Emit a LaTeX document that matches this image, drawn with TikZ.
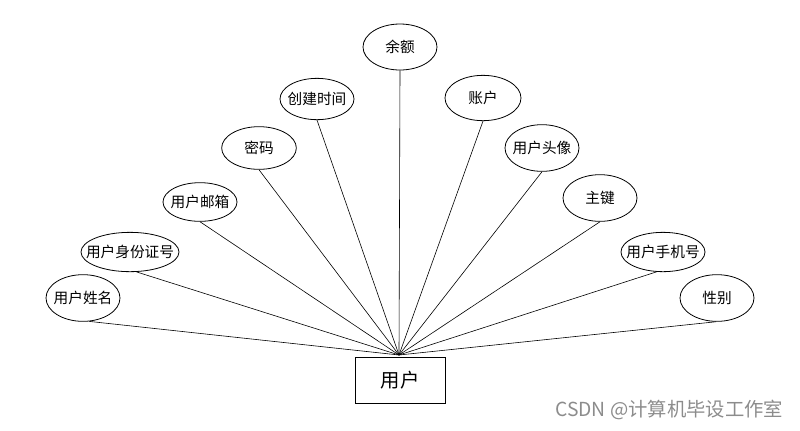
\documentclass[tikz,border=0pt]{standalone}
\usepackage{fontspec}
\newfontfamily\cjk{Noto Sans CJK SC}
\usetikzlibrary{shapes.geometric}
\tikzset{
  attr/.style={ellipse, draw=black, line width=0.6pt, inner xsep=-14pt, inner ysep=0pt, font=\cjk\fontsize{11}{12}\selectfont},
  ent/.style={rectangle, draw=black, line width=0.6pt, inner sep=0pt, minimum width=67.5pt, minimum height=34.5pt, font=\cjk\fontsize{14.5}{16}\selectfont},
  link/.style={draw=black, line width=0.45pt}
}
\begin{document}
\begin{tikzpicture}[x=0.75pt,y=-0.75pt]
\useasboundingbox (0,0) rectangle (800,430);
\node[ent] (u) at (400,380) {用户};
\coordinate (c) at (399,355);
\node[attr, minimum width=55.5pt, minimum height=34.5pt] (a1) at (400,47) {余额};
\node[attr, minimum width=55.5pt, minimum height=31pt] (a2) at (317,99) {创建时间};
\node[attr, minimum width=57pt, minimum height=34pt] (a3) at (483,98) {账户};
\node[attr, minimum width=56pt, minimum height=32pt] (a4) at (259,148) {密码};
\node[attr, minimum width=55.5pt, minimum height=35pt] (a5) at (542,148) {用户头像};
\node[attr, minimum width=55.5pt, minimum height=29pt] (a6) at (200,202) {用户邮箱};
\node[attr, minimum width=55.5pt, minimum height=35pt] (a7) at (600,198) {主键};
\node[attr, minimum width=73.5pt, minimum height=29.5pt] (a8) at (130,252) {用户身份证号};
\node[attr, minimum width=63pt, minimum height=29.5pt] (a9) at (663,252) {用户手机号};
\node[attr, minimum width=55.5pt, minimum height=35pt] (a10) at (83,298) {用户姓名};
\node[attr, minimum width=55.5pt, minimum height=35pt] (a11) at (717,298) {性别};
\draw[link] (a1.south) -- (c);
\draw[link] (a2.south) -- (c);
\draw[link] (a3.south) -- (c);
\draw[link] (a4.south) -- (c);
\draw[link] (a5.south) -- (c);
\draw[link] (a6.south) -- (c);
\draw[link] (a7.south) -- (c);
\draw[link] (a8.-72) -- (c);
\draw[link] (a9.-108) -- (c);
\draw[link] (a10.-75) -- (c);
\draw[link] (a11.-92) -- (c);
\node[anchor=west, inner sep=0pt, text=black!45, font=\cjk\fontsize{14.5}{16}\selectfont] (wm) at (555,410) {CSDN @计算机毕设工作室};
\end{tikzpicture}
\end{document}
